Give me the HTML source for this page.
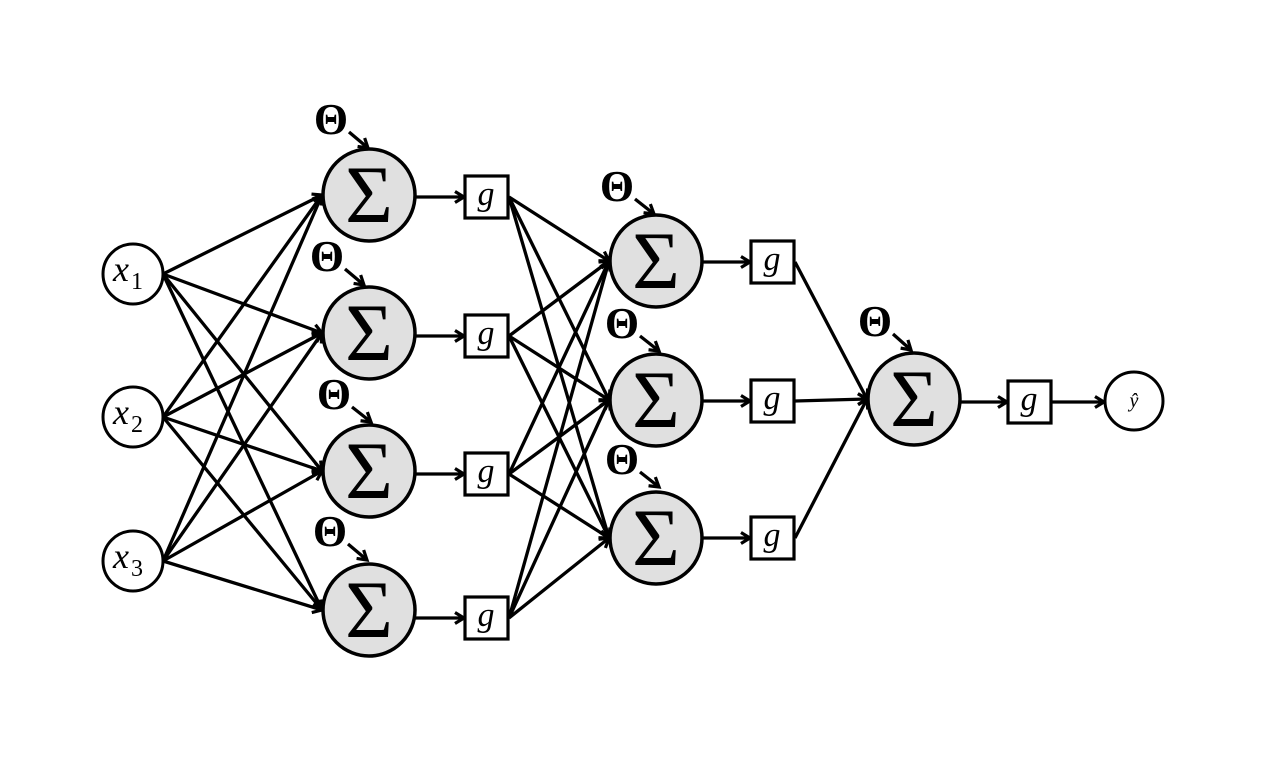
<!DOCTYPE html>
<html><head><meta charset="utf-8"><style>
html,body{margin:0;padding:0;background:#fff;}
svg{display:block;}
text{font-family:"Liberation Serif",serif;}
</style></head><body>
<svg id="s" width="1266" height="759" viewBox="0 0 1266 759" xmlns="http://www.w3.org/2000/svg">
<defs>
<marker id="a" markerWidth="14" markerHeight="14" refX="11" refY="7" orient="auto" markerUnits="userSpaceOnUse">
<polyline points="2,1.5 11,7 2,12.5" fill="none" stroke="#000" stroke-width="3.2"/>
</marker>
</defs>
<g id="edges" stroke="#000" stroke-width="3.3" fill="none"></g>
<g id="nodes"></g>
</svg>
<script>
const NS="http://www.w3.org/2000/svg";
const E=document.getElementById('edges'),N=document.getElementById('nodes');
function el(p,tag,at,txt){const e=document.createElementNS(NS,tag);for(const k in at)e.setAttribute(k,at[k]);if(txt!==undefined)e.textContent=txt;p.appendChild(e);return e;}
function arrow(x1,y1,x2,y2){el(E,'line',{x1,y1,x2,y2,'marker-end':'url(#a)'});}
const inp=[[133,274],[133,417],[133,561]];
const L1=[[369,195],[369,333],[369,471],[369,610]];
const G1=[[486,197],[486,336],[486,474],[486,618]];
const L2=[[656,261],[656,400],[656,538]];
const G2=[[772,262],[772,401],[772,538]];
const O=[914,399],GO=[1029,402],Y=[1134,401];
const R=46;
inp.forEach(a=>L1.forEach(b=>arrow(a[0]+30,a[1],b[0]-R-1,b[1])));
L1.forEach((c,i)=>arrow(c[0]+R,G1[i][1],G1[i][0]-22,G1[i][1]));
G1.forEach(a=>L2.forEach(b=>arrow(a[0]+23,a[1],b[0]-R-1,b[1])));
L2.forEach((c,i)=>arrow(c[0]+R,G2[i][1],G2[i][0]-22,G2[i][1]));
G2.forEach(a=>arrow(a[0]+23,a[1],O[0]-R-1,O[1]));
arrow(O[0]+R,GO[1],GO[0]-22,GO[1]);
arrow(GO[0]+23,GO[1],Y[0]-30,GO[1]);
function sig(c){el(N,'circle',{cx:c[0],cy:c[1],r:R,fill:'#e0e0e0',stroke:'#000','stroke-width':3.5});
 el(N,'text',{x:c[0],y:c[1]+27,'font-size':82,'font-style':'normal','text-anchor':'middle'},'Σ');}
function gbox(c){el(N,'rect',{x:c[0]-21,y:c[1]-21,width:43,height:42,fill:'#fff',stroke:'#000','stroke-width':3.2});
 el(N,'text',{x:c[0],y:c[1]+8,'font-size':34,'font-style':'italic','text-anchor':'middle'},'g');}
function theta(x,y,tx,ty){el(N,'text',{x:x,y:y+14,'font-size':44,'font-weight':'bold','text-anchor':'middle'},'Θ');
 el(E,'line',{x1:x+18,y1:y+12,x2:tx,y2:ty,'marker-end':'url(#a)'});}
L1.forEach(sig);L2.forEach(sig);sig(O);
G1.forEach(gbox);G2.forEach(gbox);gbox(GO);
theta(331,120,368,148);theta(327,257,364,285);theta(334,395,371,422);theta(330,532,367,560);
theta(617,187,654,214);theta(622,324,659,351);theta(622,460,659,487);theta(875,322,911,350);
const labs=['1','2','3'];
inp.forEach((c,i)=>{el(N,'circle',{cx:c[0],cy:c[1],r:30,fill:'#fff',stroke:'#000','stroke-width':3});
 el(N,'text',{x:c[0]-20,y:c[1]+7,'font-size':36,'font-style':'italic'},'x');
 el(N,'text',{x:c[0]-2,y:c[1]+15,'font-size':24},labs[i]);});
el(N,'circle',{cx:Y[0],cy:Y[1],r:29,fill:'#fff',stroke:'#000','stroke-width':3});
el(N,'text',{x:Y[0],y:Y[1]+6,'font-size':20,'font-style':'italic','text-anchor':'middle'},'ŷ');
</script>
</body></html>
